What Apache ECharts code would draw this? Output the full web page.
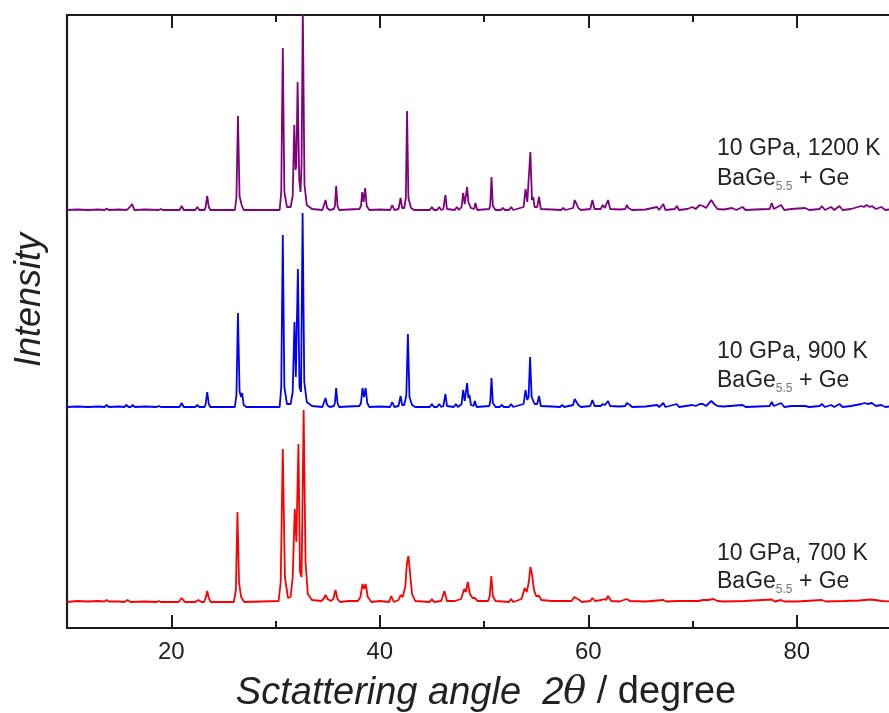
<!DOCTYPE html>
<html>
<head>
<meta charset="utf-8">
<script src="https://cdn.jsdelivr.net/npm/echarts@6/dist/echarts.min.js"></script>
<style>html,body{margin:0;padding:0;background:#fff}#chart{width:889px;height:713px}</style>
</head>
<body>
<div id="chart"></div>
<script>
// Series labels (annotation text)
const seriesNames = ['10 GPa, 700 K', '10 GPa, 900 K', '10 GPa, 1200 K'];
// Vertical offsets of the stacked patterns (arbitrary intensity units)
const offsets = [26, 221, 418];
// x tick labels
const xTickLabels = [20, 40, 60, 80];
const xMinorTicks = [30, 50, 70];

// [2theta, intensity above baseline]
const red700 = [[10,0],[11,1],[12,0.5],[13,1],[13.6,0.5],[13.8,2],[14,0.5],[15,0.5],[15.5,0],[15.8,2],[16.1,0],[17.5,0.5],[18.6,0],[18.8,1],[19,0],[20.7,0],[21,4],[21.3,0],[22.3,0],[22.6,2],[22.9,0],[23.15,0],[23.3,4],[23.45,11],[23.6,4],[23.8,0],[26.0,0],[26.2,12],[26.35,90],[26.5,20],[26.7,5],[27.0,0],[30.3,1],[30.5,20],[30.7,153],[30.9,25],[31.2,4],[31.45,5],[31.65,25],[31.85,93],[32.0,60],[32.2,158],[32.35,30],[32.5,25],[32.7,192],[32.88,40],[33.1,8],[33.5,2],[34.4,1],[34.6,3],[34.8,7],[35.0,3],[35.3,1],[35.55,3],[35.75,12],[35.95,3],[36.2,0],[37,1],[37.9,1],[38.15,5],[38.35,18],[38.5,13],[38.65,18],[38.85,5],[39.2,0],[40,1],[40.9,0],[41.1,6],[41.35,0],[41.8,2],[42.0,7],[42.2,5],[42.45,15],[42.6,38],[42.75,46],[42.9,30],[43.1,8],[43.4,1],[44.8,0],[45.0,3],[45.2,0],[45.9,1],[46.2,11],[46.45,1],[47.2,1],[47.8,3],[48.1,13],[48.25,10],[48.45,20],[48.65,8],[48.9,4],[49.1,4],[49.4,1],[50.4,1],[50.55,6],[50.7,26],[50.85,6],[51.1,1],[52.4,0],[52.6,3],[52.8,0],[53.6,3],[53.9,14],[54.1,10],[54.3,20],[54.45,35],[54.6,28],[54.8,12],[55.0,6],[55.3,6],[55.5,2],[56.5,1],[58.4,1],[58.65,5],[58.8,7],[59.0,3],[59.4,0],[60.2,1],[60.4,4],[60.65,1],[61.3,2],[61.5,3],[61.7,2],[61.9,6],[62.2,1],[63,0.5],[63.7,3],[64.0,1],[65.5,0.5],[67.2,2],[67.5,0.5],[68.5,1],[70.6,1],[71.0,2],[71.5,2],[72.0,3],[72.4,1],[73,0.5],[75,1],[77.6,2.5],[77.9,0.5],[78.5,2],[78.8,0.5],[80,0.5],[82.4,2],[82.8,0.5],[84.5,1],[86,1.5],[86.5,2],[87,2.5],[87.5,2],[88.2,1],[89,0.5],[90,0]];

const blue900 = [[10,0],[11,0.5],[12,0],[13,0.5],[13.6,0],[13.8,2],[14,0],[15,0.5],[15.5,0],[15.7,2],[15.9,0],[16.1,0],[16.3,2],[16.5,0],[17.5,0.5],[18.6,0],[18.8,1],[19,0],[20.8,0],[21,4],[21.2,0],[22.3,0],[22.5,2],[22.7,0],[23.2,0],[23.3,3],[23.45,15],[23.6,3],[23.75,0],[26.1,0],[26.25,12],[26.4,94],[26.55,16],[26.7,10],[26.8,14],[26.95,2],[27.2,0],[30.4,0],[30.55,20],[30.7,172],[30.85,20],[31.1,3],[31.45,3],[31.65,15],[31.82,85],[31.95,30],[32.15,138],[32.3,20],[32.45,15],[32.6,194],[32.76,25],[33.0,5],[33.5,1],[34.5,0],[34.65,2],[34.8,9],[34.95,2],[35.2,0],[35.6,1],[35.7,4],[35.82,19],[35.95,4],[36.1,0],[37,0.5],[38.05,1],[38.2,4],[38.35,19],[38.5,10],[38.65,19],[38.8,4],[39,0],[40,0.5],[41,0],[41.2,5],[41.4,0],[41.8,1],[42.0,11],[42.15,2],[42.35,2],[42.55,12],[42.7,73],[42.85,10],[43.1,2],[43.4,0],[44.8,0],[45.0,3],[45.2,0],[45.5,0],[45.7,3],[45.9,0],[46.1,1],[46.3,13],[46.45,1],[47.1,0],[47.3,3],[47.5,0],[47.85,3],[48.0,17],[48.15,6],[48.38,24],[48.5,9],[48.6,12],[48.75,2],[49.0,1],[49.12,6],[49.3,0],[50.5,1],[50.6,5],[50.72,29],[50.85,4],[51.1,0],[51.5,0],[51.7,2],[51.9,0],[52.4,0],[52.6,3],[52.8,0],[53.8,3],[53.98,17],[54.15,7],[54.28,10],[54.42,50],[54.57,10],[54.7,10],[54.85,3],[55.1,3],[55.28,11],[55.45,1],[56.5,0.5],[57.3,0],[57.5,2],[57.7,0],[58.55,2],[58.7,8],[58.85,10],[59.05,2],[59.3,0],[60.2,1],[60.4,7],[60.6,1],[61.2,1],[61.4,3],[61.6,2],[61.9,6],[62.1,1],[63,0.5],[63.55,1],[63.7,4],[63.85,2],[64.0,2],[64.2,0],[65.5,0.5],[66.6,2],[66.8,0],[67.2,4],[67.4,0],[68.5,3],[68.7,0],[70.0,2],[70.3,1],[70.7,3],[71.0,3],[71.3,1],[71.8,6],[72.1,3],[72.4,1],[73,0.5],[74.8,2],[75.1,0],[77.4,1],[77.6,5],[77.8,1],[78.5,4],[78.8,0],[79.5,1],[80.8,1],[81.2,0],[82.2,1],[82.4,3],[82.7,0],[83.3,2],[83.6,0],[84.1,3],[84.4,0],[85.2,1],[86.2,3],[86.5,4],[86.8,3],[87.2,4],[87.6,1],[88.1,2],[88.5,0],[89.2,1],[90,0]];

const purple1200 = [[10,0],[11,0.5],[12,0],[13,0.5],[13.6,0],[13.8,1.5],[14,0],[15,0.5],[15.7,0],[15.9,1.5],[16.05,0],[16.25,6],[16.45,0],[17.5,0.5],[18.8,0],[19,1],[19.2,0],[20.8,0],[21,4],[21.2,0],[22.3,0],[22.5,3],[22.7,0],[23.2,0],[23.3,3],[23.45,14],[23.6,3],[23.75,0],[26.1,0],[26.25,12],[26.4,94],[26.55,14],[26.75,5],[26.95,0],[30.4,0],[30.55,18],[30.7,162],[30.85,18],[31.1,3],[31.45,3],[31.65,14],[31.8,85],[31.92,40],[32.0,45],[32.12,128],[32.28,30],[32.4,18],[32.5,45],[32.62,200],[32.78,25],[33.0,5],[33.5,1],[34.5,0],[34.65,2],[34.8,10],[34.95,2],[35.2,0],[35.6,1],[35.7,4],[35.82,24],[35.95,4],[36.1,0],[37,0.5],[38.05,1],[38.2,4],[38.32,18],[38.45,8],[38.6,22],[38.75,4],[39,0],[40,0.5],[41,0],[41.2,5],[41.4,0],[41.8,1],[42.0,12],[42.15,2],[42.35,2],[42.5,12],[42.62,99],[42.75,12],[43,2],[43.3,0],[44.8,0],[45.0,3],[45.2,0],[45.5,0],[45.7,3],[45.9,0],[46.1,1],[46.3,15],[46.45,1],[47.2,0],[47.4,3],[47.6,0],[47.85,3],[48.0,17],[48.15,6],[48.38,23],[48.5,8],[48.6,10],[48.75,2],[49.05,1],[49.18,7],[49.35,0],[50.5,1],[50.6,5],[50.72,33],[50.85,4],[51.1,0],[51.6,0],[51.8,2],[52,0],[52.4,0],[52.6,3],[52.8,0],[53.8,3],[53.98,21],[54.15,8],[54.3,10],[54.45,58],[54.6,10],[54.72,13],[54.85,3],[55.1,3],[55.28,13],[55.45,1],[56.5,0.5],[57.4,0],[57.6,2],[57.8,0],[58.55,2],[58.7,10],[58.85,12],[59.05,2],[59.3,0],[60.2,1],[60.4,10],[60.6,1],[61.2,1],[61.4,5],[61.6,2],[61.9,10],[62.1,1],[63,0.5],[63.55,1],[63.7,5],[63.85,2],[64.0,3],[64.2,0],[65.5,0.5],[66.6,3],[66.8,0],[67.2,6],[67.4,0],[68.3,1],[68.5,4],[68.7,0],[69.5,1],[70.0,3],[70.3,1],[70.7,5],[71.0,4],[71.3,2],[71.8,10],[72.1,5],[72.4,1],[73,0.5],[73.8,2],[74.2,0],[74.8,3],[75.1,0],[76,0.5],[77.4,1],[77.6,7],[77.8,1],[78.5,5],[78.8,0],[79.5,1],[80.8,2],[81.2,0],[82.2,1],[82.4,4],[82.7,0],[83.3,3],[83.6,0],[84.1,4],[84.4,0],[85.2,1],[86.2,4],[86.45,3],[86.7,5],[87.0,3],[87.2,4],[87.6,1],[88.1,3],[88.5,0],[89.2,1],[90,0]];

const patterns = [red700, blue900, purple1200];
const colors = ['#ff0000', '#0000ff', '#800080'];

const FONT = "'Liberation Sans', Arial, sans-serif";
const AX = '#1e1a24';

const chart = echarts.init(document.getElementById('chart'), null, {renderer: 'canvas'});

function xAxisBase(pos, showLine, len, vals, labels) {
  return {
    type: 'value', min: 10, max: 90, position: pos,
    axisLine: {show: showLine, onZero: false, lineStyle: {color: AX, width: 2.2}},
    axisTick: {show: true, inside: true, length: len, customValues: vals, lineStyle: {color: AX, width: 2}},
    axisLabel: labels ? {show: true, customValues: xTickLabels, fontSize: 24, fontFamily: FONT, color: '#222', margin: 12} : {show: false},
    splitLine: {show: false}
  };
}

const option = {
  animation: false,
  backgroundColor: '#fff',
  grid: {left: 67, top: 15, right: -12, bottom: 85, containLabel: false, outerBoundsMode: 'none'},
  xAxis: [
    xAxisBase('bottom', true, 13, xTickLabels, true),
    xAxisBase('bottom', false, 7, xMinorTicks, false),
    xAxisBase('top', true, 13, xTickLabels, false),
    xAxisBase('top', false, 7, xMinorTicks, false)
  ],
  yAxis: [{
    type: 'value', min: 0, max: 613,
    axisLine: {show: true, onZero: false, lineStyle: {color: AX, width: 2.2}},
    axisTick: {show: false}, axisLabel: {show: false}, splitLine: {show: false}
  }],
  series: patterns.map((p, i) => ({
    type: 'line', name: seriesNames[i], xAxisIndex: 0, yAxisIndex: 0,
    data: p.map(d => [d[0], d[1] + offsets[i]]),
    showSymbol: false, symbol: 'none', clip: true,
    lineStyle: {color: colors[i], width: 1.8},
    z: 2 + i
  })),
  graphic: []
};

chart.setOption(option);

const annY = [[554, 580], [352, 379], [149, 177]];
const g = [];
g.push({type: 'text', x: 30, y: 300, rotation: Math.PI / 2,
  style: {text: 'Intensity', font: 'italic 36px ' + FONT, fill: '#222', align: 'center', verticalAlign: 'middle'}});
g.push({type: 'text', x: 486, y: 693,
  style: {text: '{a|Sctattering angle  2}{t|θ}{r| / degree}', align: 'center', verticalAlign: 'middle',
    rich: {a: {font: 'italic 38px ' + FONT, fill: '#222'}, t: {font: 'italic 38px "DejaVu Serif", "Liberation Serif", serif', fill: '#222'}, r: {font: '38px ' + FONT, fill: '#222'}}}});
for (let i = 0; i < 3; i++) {
  g.push({type: 'text', x: 717, y: annY[i][0],
    style: {text: seriesNames[i], font: '23px ' + FONT, fill: '#222', align: 'left', verticalAlign: 'middle'}});
  g.push({type: 'text', x: 717, y: annY[i][1],
    style: {text: '{n|BaGe}{s|5.5}{n| + Ge}', align: 'left', verticalAlign: 'middle',
      rich: {n: {font: '23px ' + FONT, fill: '#222', lineHeight: 26, verticalAlign: 'bottom'},
             s: {font: '12px ' + FONT, fill: '#777', lineHeight: 26, verticalAlign: 'bottom', padding: [0, 0, -3, 0]}}}});
}
chart.setOption({graphic: g});
</script>
</body>
</html>
